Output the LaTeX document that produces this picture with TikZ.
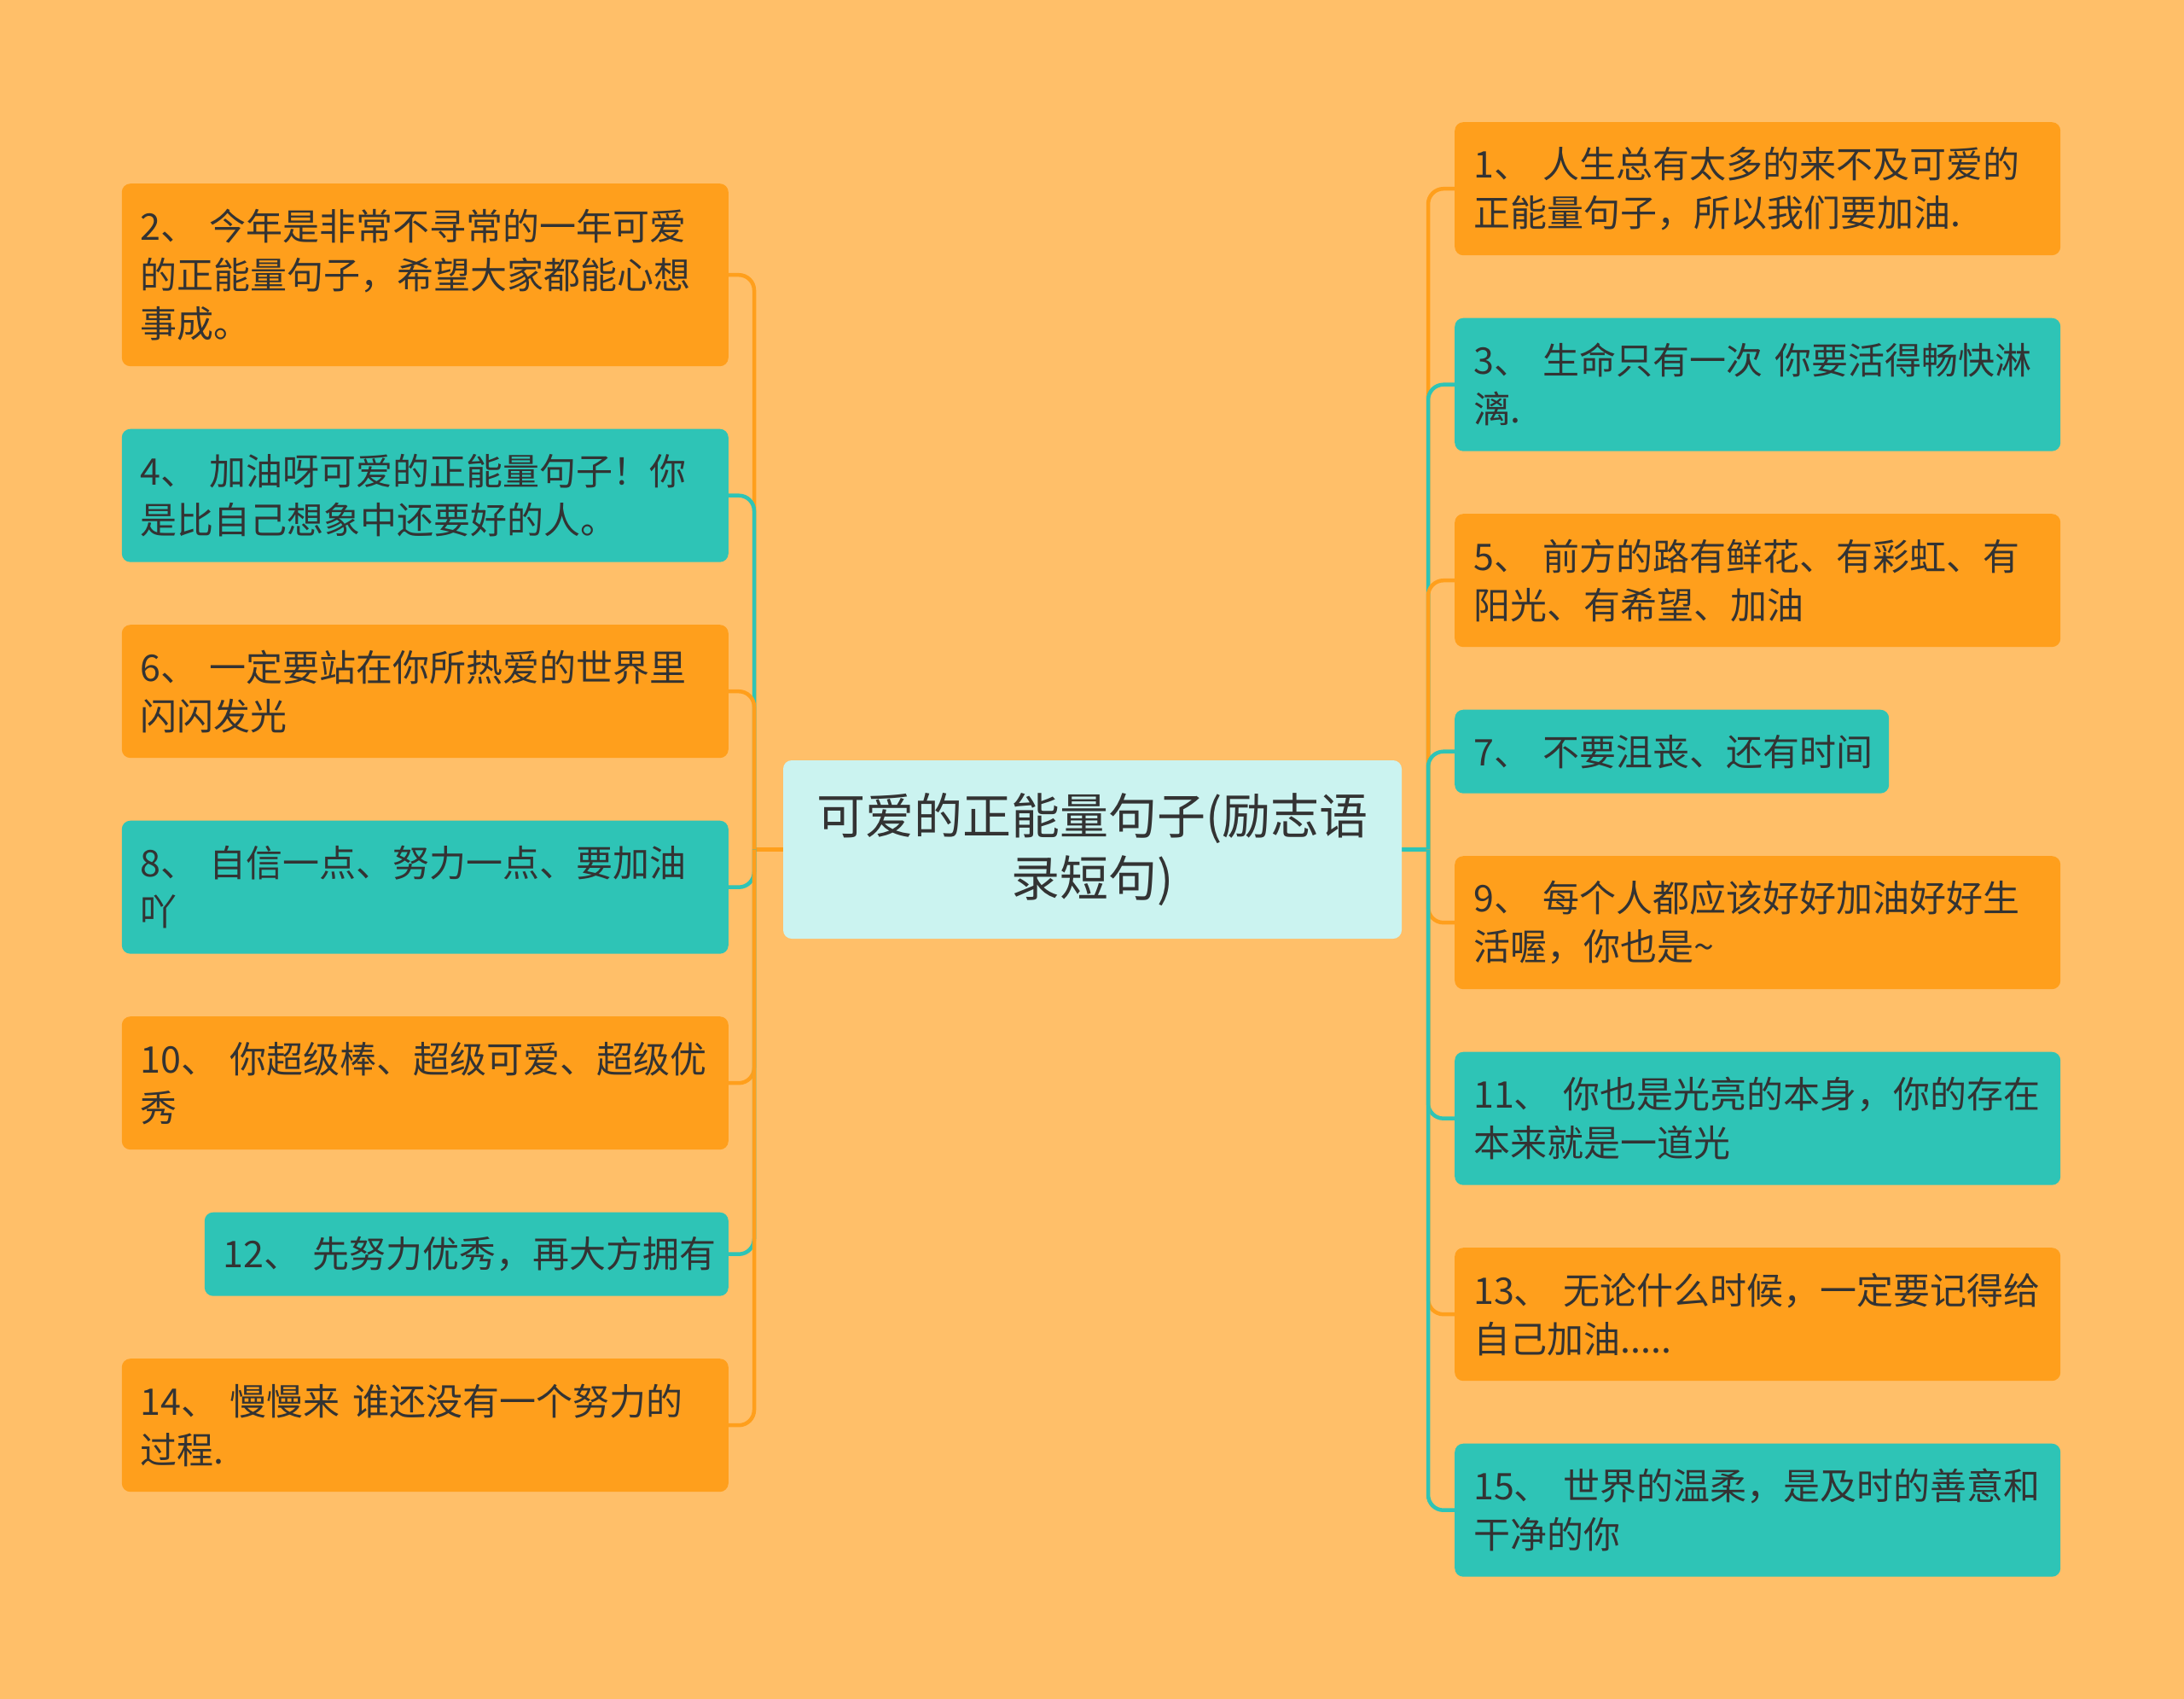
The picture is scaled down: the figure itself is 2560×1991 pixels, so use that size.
\documentclass[tikz,border=0pt]{standalone}
\usepackage{fontspec}
\setmainfont{Noto Sans CJK SC}
\usetikzlibrary{backgrounds}
\definecolor{cBg}{HTML}{FFBF69}
\definecolor{cOra}{HTML}{FF9F1C}
\definecolor{cTeal}{HTML}{2EC4B6}
\definecolor{cHub}{HTML}{CBF3F0}
\definecolor{cText}{HTML}{333333}

\begin{document}
\begin{tikzpicture}[x=1pt,y=-1pt,
  leaf/.style={rounded corners=10pt,inner xsep=22pt,inner ysep=0pt,align=left,
    font=\fontsize{43}{57}\selectfont,text=cText},
  link/.style={line width=4.5pt,rounded corners=18pt}]
\useasboundingbox (0,0) rectangle (2560,1991);

% centre topic
\node[rounded corners=10pt,fill=cHub,text=cText,align=center,
      minimum width=725pt,minimum height=209pt,inner sep=0pt,
      font=\fontsize{57}{73}\selectfont] (hub) at (1280.5,995.5)
  {可爱的正能量句子(励志语\\录短句)};
\coordinate (jl) at (884,995.5);  % left trunk
\coordinate (jr) at (1674,995.5); % right trunk

% left branches: id/top/height/width/colour/text
\foreach \n/\top/\h/\w/\c/\txt in {%
  2/215/214/711/cOra/{2、~今年是非常不寻常的一年可爱\\的正能量句子，希望大家都能心想\\事成。},
  4/502.5/156/711/cTeal/{4、~加油呀可爱的正能量句子！你\\是比自己想象中还要好的人。},
  6/732/156/711/cOra/{6、~一定要站在你所热爱的世界里\\闪闪发光},
  8/961.5/156/711/cTeal/{8、~自信一点、努力一点、要加油\\吖},
  10/1191/156/711/cOra/{10、~你超级棒、超级可爱、超级优\\秀},
  12/1420.5/98/614/cTeal/{12、~先努力优秀，再大方拥有},
  14/1592/156/711/cOra/{14、~慢慢来~谁还没有一个努力的\\过程.}}
{
  \pgfmathsetmacro\tw{\w-44}
  \node[leaf,fill=\c,anchor=north east,minimum width=\w pt,
        minimum height=\h pt,text width=\tw pt] (n\n) at (854,\top) {\txt};
}

% right branches
\foreach \n/\top/\h/\w/\c/\txt in {%
  1/143/156/710/cOra/{1、~人生总有太多的来不及可爱的\\正能量句子，所以我们要加油.},
  3/372.5/156/710/cTeal/{3、~生命只有一次~你要活得畅快淋\\漓.},
  5/602/156/710/cOra/{5、~前方的路有鲜花、有彩虹、有\\阳光、有希望、加油},
  7/831.5/98/509/cTeal/{7、~不要沮丧、还有时间},
  9/1003/156/710/cOra/{9、~每个人都应该好好加油好好生\\活喔，你也是\textasciitilde},
  11/1232.5/156/710/cTeal/{11、~你也是光亮的本身，你的存在\\本来就是一道光},
  13/1462/156/710/cOra/{13、~无论什么时候，一定要记得给\\自己加油.....},
  15/1691.5/156/710/cTeal/{15、~世界的温柔，是及时的善意和\\干净的你}}
{
  \pgfmathsetmacro\tw{\w-44}
  \node[leaf,fill=\c,anchor=north west,minimum width=\w pt,
        minimum height=\h pt,text width=\tw pt] (n\n) at (1705,\top) {\txt};
}

\begin{scope}[on background layer]
  \fill[cBg] (0,0) rectangle (2560,1991);
  \draw[link,draw=cOra] (hub.west) -- (jl);
  \draw[link,draw=cTeal] (hub.east) -- (jr);
  \foreach \n/\c in {2/cOra,4/cTeal,6/cOra,8/cTeal,10/cOra,12/cTeal,14/cOra}
    \draw[link,draw=\c] (jl) |- (n\n.east);
  \foreach \n/\c in {1/cOra,3/cTeal,5/cOra,7/cTeal,9/cOra,11/cTeal,13/cOra,15/cTeal}
    \draw[link,draw=\c] (jr) |- (n\n.west);
\end{scope}
\end{tikzpicture}
\end{document}
